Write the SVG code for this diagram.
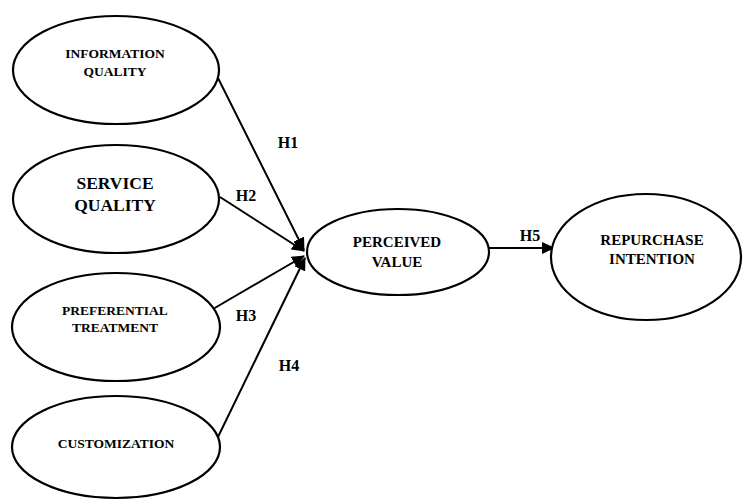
<svg xmlns="http://www.w3.org/2000/svg" width="745" height="501" viewBox="0 0 745 501">
<style>
.node ellipse{fill:#fff;stroke:#000;stroke-width:2.2}
text{font-family:"Liberation Serif","Times New Roman",serif;font-weight:bold;fill:#000;text-anchor:middle}
.s{font-size:13.5px}
.m{font-size:15px}
.l{font-size:17.5px}
.h{font-size:16px}
.edges line{stroke:#000;stroke-width:2}
</style>
<defs>
<marker id="ah" markerUnits="userSpaceOnUse" markerWidth="14" markerHeight="12" refX="12" refY="6" orient="auto">
<path d="M0,0 L13,6 L0,12 Z" fill="#000"/>
</marker>
</defs>
<rect width="745" height="501" fill="#fff"/>
<g class="edges">
<line x1="218" y1="78" x2="304" y2="250" marker-end="url(#ah)"/>
<line x1="220" y1="197" x2="304" y2="251" marker-end="url(#ah)"/>
<line x1="213" y1="309" x2="304" y2="256" marker-end="url(#ah)"/>
<line x1="217" y1="439" x2="305" y2="258" marker-end="url(#ah)"/>
<line x1="489" y1="248" x2="554" y2="248" marker-end="url(#ah)"/>
</g>
<g id="information-quality" class="node">
<ellipse cx="116" cy="70" rx="103" ry="54"/>
<text class="s" x="115" y="58">INFORMATION</text>
<text class="s" x="115" y="76">QUALITY</text>
</g>
<g id="service-quality" class="node">
<ellipse cx="116" cy="199" rx="103" ry="54"/>
<text class="l" x="115" y="189">SERVICE</text>
<text class="l" x="115" y="211">QUALITY</text>
</g>
<g id="preferential-treatment" class="node">
<ellipse cx="116" cy="327" rx="104" ry="54"/>
<text class="s" x="115" y="315">PREFERENTIAL</text>
<text class="s" x="115" y="332">TREATMENT</text>
</g>
<g id="customization" class="node">
<ellipse cx="116" cy="447" rx="104" ry="51"/>
<text class="s" x="116" y="448">CUSTOMIZATION</text>
</g>
<g id="perceived-value" class="node">
<ellipse cx="398" cy="252" rx="91" ry="43"/>
<text class="m" x="397" y="247">PERCEIVED</text>
<text class="m" x="397" y="267">VALUE</text>
</g>
<g id="repurchase-intention" class="node">
<ellipse cx="646" cy="257" rx="95" ry="63"/>
<text class="m" x="652" y="245">REPURCHASE</text>
<text class="m" x="652" y="264">INTENTION</text>
</g>
<g id="labels">
<text class="h" x="288" y="148">H1</text>
<text class="h" x="246" y="201">H2</text>
<text class="h" x="246" y="321">H3</text>
<text class="h" x="289" y="371">H4</text>
<text class="h" x="530" y="241">H5</text>
</g>
</svg>
